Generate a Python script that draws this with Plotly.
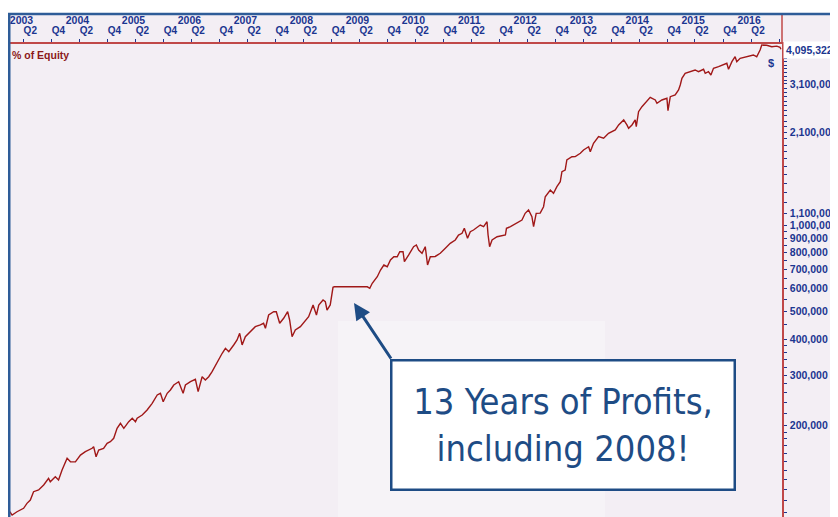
import plotly.graph_objects as go

# ---------------- data ----------------
dates = [
    "2003-01-03","2003-01-18","2003-02-19","2003-04-03","2003-04-25","2003-05-17","2003-06-07","2003-07-10","2003-08-12","2003-09-13","2003-09-24","2003-10-27","2003-11-17","2003-12-10",
    "2004-01-12","2004-02-03","2004-03-06","2004-04-08","2004-05-10","2004-06-23","2004-07-03","2004-07-19","2004-08-05","2004-09-06","2004-09-29","2004-10-20","2004-11-11","2004-12-03","2004-12-25",
    "2005-01-16","2005-02-17","2005-03-12","2005-04-02","2005-04-13","2005-05-16","2005-06-17","2005-07-20","2005-08-22","2005-09-12","2005-09-30","2005-10-26","2005-11-16","2005-12-08",
    "2006-01-09","2006-02-07","2006-02-22","2006-03-27","2006-04-28","2006-05-16","2006-05-31","2006-06-11","2006-07-02","2006-07-24","2006-08-15","2006-09-17","2006-10-20","2006-11-10","2006-12-02",
    "2007-01-03","2007-01-25","2007-02-11","2007-02-27","2007-03-20","2007-04-22","2007-05-24","2007-06-26","2007-07-17","2007-07-29","2007-08-19","2007-09-21","2007-10-08","2007-10-30","2007-11-25","2007-12-21",
    "2008-01-03","2008-01-19","2008-02-09","2008-03-13","2008-04-15","2008-05-06","2008-06-04","2008-06-26","2008-07-11","2008-08-08","2008-08-23","2008-09-03","2008-09-24","2008-10-12","2008-10-20",
    "2009-05-24","2009-06-09","2009-06-25","2009-07-28","2009-08-18","2009-09-09","2009-10-01","2009-10-22","2009-11-13","2009-12-05","2009-12-22",
    "2010-01-12","2010-01-21","2010-02-18","2010-03-22","2010-04-09","2010-04-24","2010-05-16","2010-06-06","2010-06-21","2010-07-09","2010-08-10","2010-09-12","2010-10-15","2010-11-16","2010-12-19",
    "2011-01-09","2011-02-01","2011-02-16","2011-03-09","2011-03-27","2011-04-17","2011-05-14","2011-05-31","2011-06-22","2011-07-14","2011-07-21","2011-07-31","2011-08-16","2011-09-18","2011-11-11","2011-11-18","2011-12-14",
    "2012-01-25","2012-02-27","2012-03-19","2012-04-10","2012-05-02","2012-05-13","2012-05-30","2012-06-25","2012-07-17","2012-07-28","2012-08-30","2012-09-20","2012-10-12","2012-11-03","2012-11-14","2012-12-05","2012-12-16",
    "2013-01-18","2013-02-09","2013-03-14","2013-04-04","2013-05-07","2013-05-18","2013-06-08","2013-07-11","2013-08-13","2013-09-14","2013-10-07","2013-10-28","2013-11-19","2013-12-22",
    "2014-01-12","2014-01-23","2014-02-14","2014-03-07","2014-03-14","2014-03-29","2014-04-20","2014-05-11","2014-06-13","2014-07-16","2014-07-27","2014-08-28","2014-09-30","2014-10-07","2014-10-22","2014-11-23","2014-12-15","2014-12-26",
    "2015-01-06","2015-01-27","2015-03-01","2015-04-02","2015-04-24","2015-05-27","2015-06-07","2015-06-28","2015-07-14","2015-07-31","2015-09-02","2015-10-04","2015-10-26","2015-11-06","2015-11-28","2015-12-19","2015-12-30",
    "2016-01-21","2016-03-04","2016-04-16","2016-05-08","2016-05-30","2016-06-10","2016-07-12","2016-08-14","2016-09-16","2016-10-07","2016-10-13",
]
equity = [
    100200, 97600, 100200, 103000, 107200, 110100, 117700, 119300, 124200, 131000, 127500, 132700, 129300, 140100,
    153800, 149700, 149500, 157900, 162200, 166700, 168900, 155800, 164400, 166700, 173500, 175800, 180600, 195700, 203800,
    195700, 206400, 212100, 206400, 212100, 217800, 226700, 239200, 255700, 259200, 242300, 259200, 266100, 277000,
    284400, 259200, 277000, 284400, 290000, 262600, 280800, 296000, 288400, 296000, 308200, 334000, 357300, 371900, 361900,
    381900, 397500, 419500, 381900, 408200, 424900, 442300, 448400, 454500, 436700, 485800, 498800, 498800, 454500, 473100, 498800,
    466700, 408200, 430700, 442300, 466700, 479100, 526400, 485800, 526400, 548000, 540600, 505600, 526400, 606700, 609000,
    609000, 601900, 626600, 660600, 697000, 725500, 715700, 755100, 775400, 775400, 807300,
    807300, 745000, 786300, 840300, 851800, 818400, 797000, 840300, 725500, 775400, 777000, 797000, 829500, 863400, 886600,
    922900, 935600, 973900, 899000, 947700, 960700, 986500, 1000000, 986500, 1026800, 922900, 840300, 886600, 910300, 922900, 973900, 986500,
    1013700, 1040900, 1098400, 1127800, 1068900, 986500, 1098400, 1100000, 1158000, 1254700, 1324300, 1289700, 1359600, 1415400, 1533600, 1554700, 1684800,
    1729900, 1731000, 1777600, 1825000, 1874000, 1800400, 1925900, 2031800, 2005700, 2087800, 2114700, 2143700, 2231300, 2322700,
    2231300, 2172900, 2231300, 2322700, 2201100, 2482200, 2583600, 2654800, 2786200, 2726000, 2654800, 2726000, 2763500, 2502300, 2799400, 2838000, 2954400, 3075400,
    3245000, 3378000, 3421100, 3468600, 3421100, 3488000, 3378000, 3421100, 3331600, 3515600, 3561200, 3610000, 3659400, 3488000, 3706800, 3858400, 3706800,
    3809100, 3858400, 3911300, 3858400, 4071600, 4238400, 4230000, 4181700, 4200000, 4161000, 4095322,
]

years = list(range(2003, 2017))
year_ticks = [f"{y}-01-01" for y in years]
year_labels = [str(y) for y in years]

quarter_ticks = []
quarter_labels = []
for y in years:
    quarter_ticks += [f"{y}-04-01", f"{y}-10-01"]
    quarter_labels += ["Q2", "Q4" if y < 2016 else ""]

y_tickvals = [100000, 200000, 300000, 400000, 500000, 600000, 700000, 800000,
              900000, 1000000, 1100000, 2100000, 3100000]
y_ticktext = [f"<b>{v:,}</b>" for v in y_tickvals]

y_minor = ([v for v in range(110000, 200000, 10000)] +
           [v for v in range(220000, 400000, 20000)] +
           [v for v in range(450000, 1000000, 50000)] +
           [v for v in range(1200000, 4200000, 100000)])

# ---------------- styling ----------------
# the page body has an 8px margin, so the figure is 8px smaller and
# page coordinates map to figure coordinates with an 8px offset
OFF = 8
W, H = 838 - OFF, 517 - OFF
NAVY = "#1B3590"
RED_AX = "#C04848"
LINE = "#A01818"
BG = "#F3EEF4"
BLUE = "#2E5C98"
BOX = "#1E4C85"
FONT = "Liberation Sans, Arial, sans-serif"

def px(x):
    return (x - OFF) / W

def py(y):
    return 1 - (y - OFF) / H

fig = go.Figure()
fig.add_trace(go.Scatter(x=dates, y=equity, mode="lines",
                         line=dict(color=LINE, width=1.4),
                         hoverinfo="skip"))
fig.add_trace(go.Scatter(x=[dates[0]], y=[equity[0]], xaxis="x2", yaxis="y",
                         mode="markers", marker=dict(opacity=0), hoverinfo="skip"))

plot_left, plot_right, plot_top = 9.5, 782, 43.5

fig.update_layout(
    width=W, height=H,
    margin=dict(l=0, r=0, t=0, b=0, autoexpand=False),
    paper_bgcolor="white",
    plot_bgcolor=BG,
    showlegend=False,
    font=dict(family=FONT),
    xaxis=dict(
        type="date", domain=[px(plot_left), px(plot_right)],
        range=["2003-01-01", "2016-10-20"],
        side="top", anchor="y", automargin=False,
        showline=True, linecolor=RED_AX, linewidth=1.5,
        tickmode="array", tickvals=quarter_ticks,
        ticktext=[f"<b>{t}</b>" for t in quarter_labels],
        ticks="outside", ticklen=3, tickcolor=NAVY, tickwidth=1,
        tickfont=dict(size=10, color=NAVY, family=FONT),
        ticklabelshift=7, ticklabelstandoff=1,
        showgrid=False, zeroline=False,
    ),
    xaxis2=dict(
        type="date", overlaying="x", matches="x",
        side="top", anchor="free", position=py(27), automargin=False,
        showline=False, ticks="",
        tickmode="array", tickvals=year_ticks,
        ticktext=[f"<b>{t}</b>" for t in year_labels],
        tickfont=dict(size=10.5, color=NAVY, family=FONT),
        ticklabelshift=12, ticklabelstandoff=1,
        showgrid=False, zeroline=False,
    ),
    yaxis=dict(
        type="log", domain=[0, py(plot_top)],
        range=[4.98258, 6.6324],
        side="right", anchor="x", automargin=False,
        showline=True, linecolor=RED_AX, linewidth=1.5,
        tickmode="array", tickvals=y_tickvals, ticktext=y_ticktext,
        ticks="outside", ticklen=3, tickcolor=NAVY,
        tickfont=dict(size=10.5, color=NAVY, family=FONT),
        ticklabelstandoff=1,
        minor=dict(tickvals=y_minor, ticks="outside", ticklen=3,
                   tickcolor=NAVY, showgrid=False),
        showgrid=False, zeroline=False,
    ),
)

shapes = [
    dict(type="rect", xref="paper", yref="paper", x0=px(8), x1=1, y0=0, y1=py(14),
         fillcolor=BG, line=dict(width=0), layer="below"),
    dict(type="rect", xref="paper", yref="paper", x0=px(338), x1=px(605), y0=0, y1=py(321),
         fillcolor="#F6F3F7", line=dict(width=0), layer="below"),
    dict(type="line", xref="paper", yref="paper", x0=px(782), x1=px(782), y0=py(43.5), y1=py(14),
         line=dict(color=RED_AX, width=1.5)),
    dict(type="line", xref="paper", yref="paper", x0=px(9), x1=px(9), y0=0, y1=py(13),
         line=dict(color=BLUE, width=3)),
    dict(type="line", xref="paper", yref="paper", x0=px(8), x1=1, y0=py(14), y1=py(14),
         line=dict(color=BLUE, width=2.5)),
]
fig.update_layout(shapes=shapes)

annotations = [
    dict(xref="paper", yref="paper", x=px(10), y=py(55), xanchor="left", yanchor="middle",
         text="<b>% of Equity</b>", showarrow=False,
         font=dict(size=10.5, color="#8B1A1A", family=FONT)),
    dict(xref="paper", yref="paper", x=px(771), y=py(63), xanchor="center", yanchor="middle",
         text="<b>$</b>", showarrow=False, font=dict(size=11, color=NAVY, family=FONT)),
    dict(xref="paper", yref="paper", x=px(783), y=py(49.5), xanchor="left", yanchor="middle",
         text=f"<b>{equity[-1]:,.2f}</b>", showarrow=False, bgcolor="white", borderpad=2,
         font=dict(size=10.5, color=NAVY, family=FONT)),
    dict(xref="paper", yref="paper", x=px(354), y=py(303), ax=38, ay=57,
         axref="pixel", ayref="pixel", text="", showarrow=True,
         arrowhead=2, arrowsize=1.1, arrowwidth=3, arrowcolor=BOX),
    dict(xref="paper", yref="paper", x=px(562.5), y=py(424.5), xanchor="center", yanchor="middle",
         text="13 Years of Profits,<br>including 2008!", showarrow=False,
         width=341, height=127, bgcolor="white", bordercolor=BOX, borderwidth=2.5, borderpad=0,
         align="center",
         font=dict(size=36, color=BOX,
                   family="Liberation Sans Narrow, DejaVu Sans Condensed, Roboto Condensed, Arial Narrow, sans-serif")),
]
fig.update_layout(annotations=annotations)

fig.write_html("out.html")
